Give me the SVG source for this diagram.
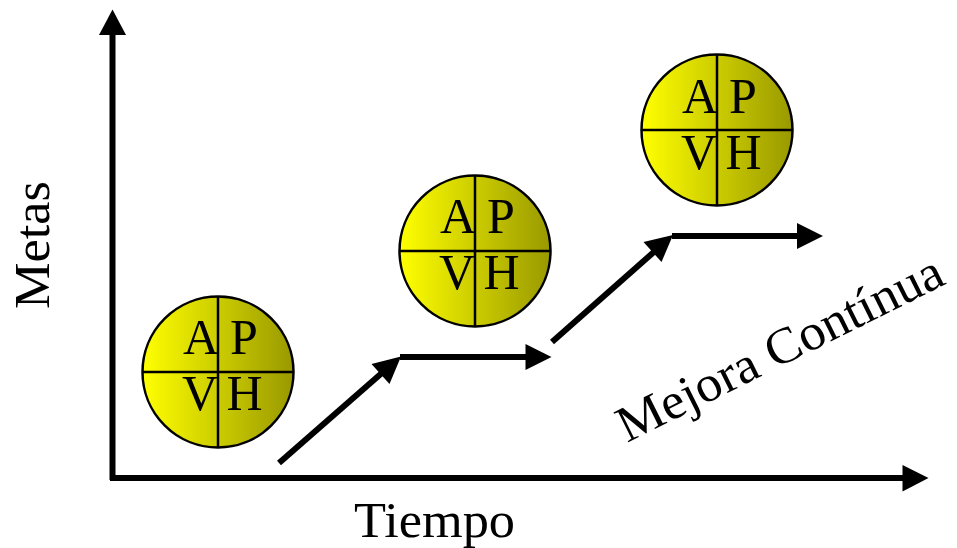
<svg xmlns="http://www.w3.org/2000/svg" width="957" height="548" viewBox="0 0 957 548">
<style>
text{font-family:"Liberation Serif","Times New Roman",serif;fill:#000}
.l{font-size:50px}
.t{font-size:51px}
.c{stroke:#000;stroke-width:2.5;fill:url(#g)}
.x{stroke:#000;stroke-width:2.5;fill:none}
.a{stroke:#000;stroke-width:6;fill:none}
</style>
<defs>
<linearGradient id="g" x1="0" y1="0" x2="1" y2="0"><stop offset="0" stop-color="#ffff00"/><stop offset="1" stop-color="#999900"/></linearGradient>
<g id="disc">
<circle class="c" cx="0" cy="0" r="75.5"/>
<path class="x" d="M-75.5 0H75.5M0 -75.5V75.5"/>
</g>
<g id="letters">
<text class="l" x="-35" y="-18">A</text>
<text class="l" x="12" y="-18">P</text>
<text class="l" x="-36" y="38">V</text>
<text class="l" x="8.500" y="38">H</text>
</g>
</defs>
<g id="connectors">
<path class="a" d="M112.5 480V33"/><path d="M112.5 9.5L126 35H99Z"/>
<path class="a" d="M110 478H904"/><path d="M928.500 478L902.500 465V491.500Z"/>
<path class="a" d="M279 463L383 372"/><path d="M401 356.500L389.500 384 371.500 364Z"/>
<path class="a" d="M400 357H527"/><path d="M551.500 357L525.500 344V370Z"/>
<path class="a" d="M552 342L655 251"/><path d="M673 235L661.500 262 643.500 242Z"/>
<path class="a" d="M672 236H798"/><path d="M823 236L797 223V249Z"/>
</g>
<g id="node-1"><use href="#disc" x="218" y="372"/><use href="#letters" x="218" y="372"/></g>
<g id="node-2"><use href="#disc" x="475" y="251"/><use href="#letters" x="475" y="251"/></g>
<g id="node-3"><use href="#disc" x="717" y="130"/><use href="#letters" x="717" y="131"/></g>
<g id="label-tiempo"><text class="t" x="354" y="537" textLength="161" lengthAdjust="spacingAndGlyphs">Tiempo</text></g>
<g id="label-metas"><text class="t" transform="translate(49,309) rotate(-90)" textLength="128" lengthAdjust="spacingAndGlyphs">Metas</text></g>
<g id="label-mejora"><text class="t" transform="translate(627,443) rotate(-26.500)" textLength="358" lengthAdjust="spacingAndGlyphs">Mejora Contínua</text></g>
</svg>
